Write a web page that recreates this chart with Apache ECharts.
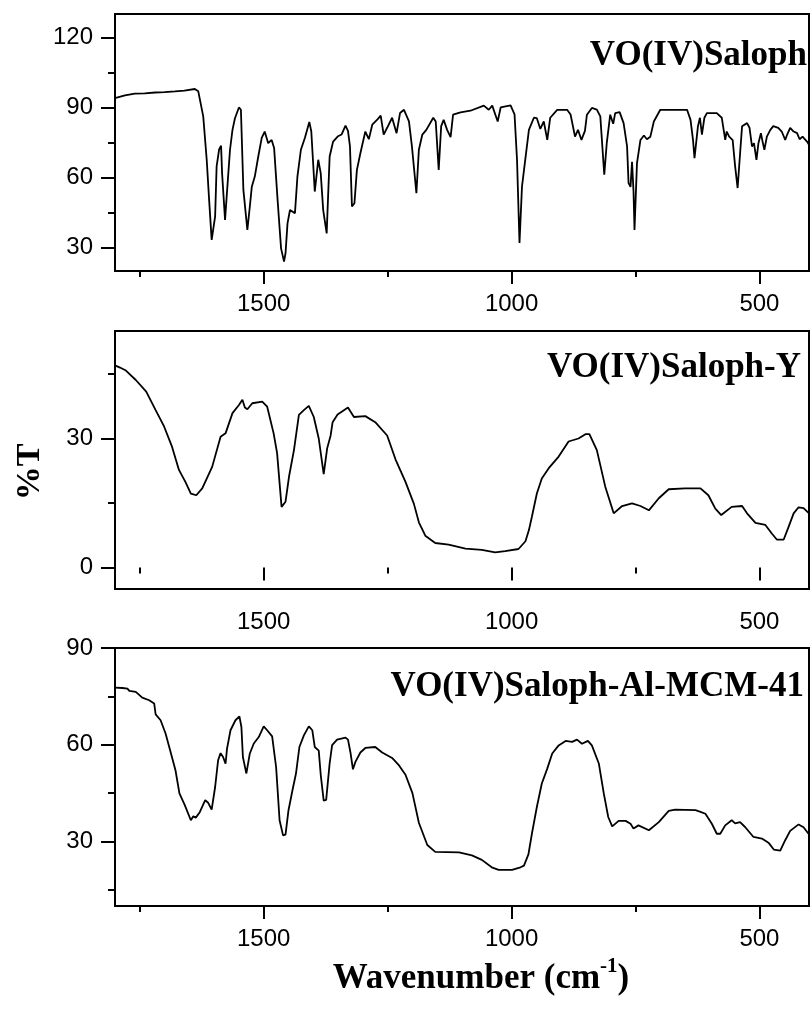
<!DOCTYPE html>
<html>
<head>
<meta charset="utf-8">
<script src="https://cdn.jsdelivr.net/npm/echarts@6/dist/echarts.min.js"></script>
<style>
  html, body { margin: 0; padding: 0; background: #fff; }
  #chart { width: 812px; height: 1010px; }
</style>
</head>
<body>
<div id="chart"></div>
<script>
// FT-IR spectra: wavenumber (cm-1) vs %T for three samples
const salophWn = [1800,1780,1760,1740,1719,1700,1679,1660,1639,1632,1622,1615,1610,1605,1598,1595,1590,1586,1584,1578,1572,1568,1563,1558,1550,1546,1541,1533,1528,1524,1518,1511,1504,1498,1491,1484,1479,1472,1465,1459,1456,1452,1447,1437,1432,1425,1417,1408,1404,1397,1390,1385,1380,1373,1367,1360,1350,1343,1335,1330,1326,1322,1317,1312,1305,1295,1288,1281,1270,1264,1258,1251,1241,1237,1232,1225,1217,1207,1201,1192,1187,1180,1172,1168,1158,1153,1147,1142,1137,1130,1123,1118,1103,1083,1056,1046,1039,1028,1022,1002,994,989,984,979,972,965,955,949,942,935,932,928,922,908,888,881,872,866,859,852,848,838,828,821,813,808,801,795,791,782,774,767,764,760,757,754,752,747,740,733,727,720,713,700,673,646,639,634,631,627,624,620,616,611,606,586,576,569,566,561,554,549,544,539,535,525,520,515,511,506,502,497,494,490,485,478,472,462,455,448,444,438,431,424,419,413,404,400];
const salophT  = [94.0,95.2,95.9,96.0,96.4,96.6,96.9,97.2,97.9,96.9,86.2,67.6,50,33.3,43.4,64.8,72,73.6,61.9,41.9,60,71.9,80.4,85.4,90,89,54.7,37.6,47.6,56.1,60.4,69,77,79.7,74.7,76.1,72.6,50.4,29.7,24,27.6,40.4,46.1,44.7,60.4,71.9,76.9,83.8,79.7,54,67.6,61.9,46.1,36.1,69,75.4,77.7,78.4,82.2,80,73.3,47.6,49,63.3,70.4,79.7,76.4,82.6,85,86.5,78.4,81.3,85.6,84.9,79,87.6,89,84,73.3,53.3,71.9,78.4,80.4,79.7,85.6,84,63.3,82,84.7,80.4,77.3,86.9,87.9,88.6,90.8,89,90.8,84,90,90.9,87,67.6,32,56.1,68.3,80.4,85.6,85.4,80.8,84,84.7,76.1,85.6,89,89,87,77.5,80.4,76.1,80,86.9,89.8,89.1,86.2,61.2,74.7,86.9,83,87.6,88,83.3,73.3,57.6,56,66.7,54,37.6,66.2,76.1,78,76.4,77.5,84,89,89,89,84.7,76.1,68.3,67.6,82,85.6,78.4,85.6,87.6,87.6,85.6,76.1,79.7,77.5,76,64.8,55.5,70.4,82,83.3,81.3,73.3,74.7,67.6,74.7,79,75.7,71.9,77.5,80.4,82,81.3,79.7,76.1,78.4,81.3,79.7,79,76.4,77.5,75.4,74];

const zeoliteWn = [1800,1790,1778,1758,1737,1718,1701,1685,1671,1658,1647,1636,1624,1604,1587,1577,1563,1550,1543,1538,1533,1523,1503,1493,1480,1473,1464,1456,1449,1439,1429,1419,1409,1399,1389,1379,1372,1365,1361,1351,1342,1330,1325,1318,1295,1275,1251,1234,1214,1197,1187,1174,1154,1127,1093,1060,1033,1013,986,972,965,959,949,939,925,905,885,865,851,843,828,811,794,777,757,740,723,703,683,650,619,603,589,577,556,535,525,508,488,475,465,451,441,431,421,411,401];
const zeoliteT  = [47,46.5,45.8,43.6,40.9,36.6,32.8,28.1,22.7,19.9,17.2,16.8,18.4,23.4,30.4,31.2,35.9,37.8,39,37.2,36.8,38.2,38.6,37.4,31.2,26.6,14.1,15.3,21.1,27.3,35.5,36.6,37.6,35,30,21.7,27.7,30.7,33.8,35.6,36.3,37.2,36.3,35,35.2,33.8,30.7,25.1,19.9,14.8,10.5,7.4,5.7,5.3,4.4,4.1,3.5,3.8,4.3,6.1,8.7,11.8,17.2,20.7,23.1,25.8,29.3,30,31,31,27.3,18.8,12.6,14.3,14.9,14.3,13.3,16.1,18.2,18.4,18.4,16.8,13.7,12.2,14.1,14.3,12.6,10.4,9.9,7.9,6.5,6.5,9.5,12.6,14,13.8,12.7];

const mcmWn = [1800,1785,1775,1771,1758,1745,1731,1721,1718,1708,1698,1688,1678,1670,1659,1647,1642,1637,1629,1618,1612,1605,1598,1592,1587,1582,1577,1574,1567,1557,1549,1545,1542,1535,1528,1520,1510,1500,1493,1483,1475,1468,1461,1456,1450,1442,1435,1428,1419,1409,1402,1397,1389,1385,1379,1374,1367,1362,1352,1335,1330,1325,1320,1315,1305,1295,1275,1261,1241,1227,1214,1200,1187,1170,1154,1106,1080,1060,1040,1026,999,982,975,966,959,949,939,928,918,905,891,878,868,858,846,838,824,814,805,797,784,770,760,754,744,723,703,683,670,629,619,609,596,586,579,569,556,549,539,529,512,495,481,471,458,448,438,421,411,401];
const mcmT  = [77.7,77.6,77.4,76.7,76.4,74.6,73.8,72.8,69.4,67.6,63.5,57.8,52.1,44.9,41.2,36.6,37.8,37.4,39.1,42.8,42,39.9,46.9,55.2,57.4,56.2,54.1,58.8,64.5,67.6,68.8,65.5,56.2,51.1,57.3,60.4,62.4,65.7,64.5,62.6,53.1,36.6,31.9,32.1,39.7,45.9,51,59.3,62.9,65.7,64.5,59.3,58.2,50.7,42.7,42.9,54.2,59.9,61.6,62.2,61.6,57.6,52.4,54.7,57.6,59,59.3,57.6,55.9,53.6,50.7,45,35.8,28.9,26.8,26.6,25.7,24.3,22,21.2,21.2,22,22.5,26,32.4,40.7,48,52.6,57.3,59.8,61.2,60.9,61.6,60.3,61.2,59.8,54.2,44.9,37.6,34.7,36.4,36.4,35.5,34,35,33.5,36,39.5,39.9,39.7,39.2,38.6,35.5,32.4,32.4,35,36.6,35.6,36,34.5,31.4,30.9,29.5,27.5,27.2,30.4,33.3,35.3,34.4,32.4];

const sampleNames = ['VO(IV)Saloph', 'VO(IV)Saloph-Y', 'VO(IV)Saloph-Al-MCM-41'];

// wavenumber axis ticks (shared by all panels)
const xRange = [400, 1800];
const xMajorTicks = [500, 1000, 1500];
const xMinorTicks = [750, 1250, 1750];

// %T axis ranges and ticks per panel
const yRanges = [[20, 130], [-5, 55], [10, 90]];
const yMajorTicks = [[30, 60, 90, 120], [0, 30], [30, 60, 90]];
const yMinorTicks = [[45, 75, 105], [15, 45], [15, 45, 75]];

const xTitle = 'Wavenumber (cm';
const xTitleSup = '-1';
const yTitle = '%T';

const pairs = (xs, ys) => xs.map((x, i) => [x, ys[i]]);
const spectra = [pairs(salophWn, salophT), pairs(zeoliteWn, zeoliteT), pairs(mcmWn, mcmT)];

const chart = echarts.init(document.getElementById('chart'), null, { renderer: 'canvas' });

const gridBoxes = [
  { left: 115, width: 694, top: 14, height: 257 },
  { left: 115, width: 694, top: 331, height: 258 },
  { left: 115, width: 694, top: 648, height: 258 }
];
const titleY = [56, 368, 687];
const titleRight = [807, 801, 804];

const sansFont = '"Liberation Sans", Arial, sans-serif';
const serifFont = '"Liberation Serif", "Times New Roman", serif';
const plain = v => String(v);

const grids = gridBoxes.map(b => Object.assign({
  show: true, borderColor: '#000', borderWidth: 2, backgroundColor: 'transparent', containLabel: false
}, b));

const xAxes = [], yAxes = [], series = [];
gridBoxes.forEach((b, g) => {
  // major ticks with labels
  xAxes.push({
    type: 'value', gridIndex: g, position: 'bottom', offset: 0,
    min: xRange[0], max: xRange[1], inverse: true,
    axisLine: { show: false }, splitLine: { show: false },
    axisTick: { show: true, length: 13, lineStyle: { color: '#000', width: 2 }, customValues: xMajorTicks },
    axisLabel: { show: true, margin: 21, color: '#000', fontSize: 24, fontFamily: sansFont, formatter: plain, customValues: xMajorTicks }
  });
  // minor ticks only
  xAxes.push({
    type: 'value', gridIndex: g, position: 'bottom', offset: 0,
    min: xRange[0], max: xRange[1], inverse: true,
    axisLine: { show: false }, splitLine: { show: false },
    axisTick: { show: true, length: 6, lineStyle: { color: '#000', width: 2 }, customValues: xMinorTicks },
    axisLabel: { show: false }
  });
  yAxes.push({
    type: 'value', gridIndex: g, position: 'left', offset: 0,
    min: yRanges[g][0], max: yRanges[g][1],
    axisLine: { show: false }, splitLine: { show: false },
    axisTick: { show: true, length: 14, lineStyle: { color: '#000', width: 2 }, customValues: yMajorTicks[g] },
    axisLabel: { show: true, margin: 22, color: '#000', fontSize: 24, fontFamily: sansFont, formatter: plain, customValues: yMajorTicks[g] }
  });
  yAxes.push({
    type: 'value', gridIndex: g, position: 'left', offset: 0,
    min: yRanges[g][0], max: yRanges[g][1],
    axisLine: { show: false }, splitLine: { show: false },
    axisTick: { show: true, length: 7, lineStyle: { color: '#000', width: 2 }, customValues: yMinorTicks[g] },
    axisLabel: { show: false }
  });
  series.push({
    type: 'line', name: sampleNames[g], xAxisIndex: 2 * g, yAxisIndex: 2 * g,
    data: spectra[g], showSymbol: false, symbol: 'none', clip: true,
    lineStyle: { color: '#000', width: 1.8 }, animation: false
  });
});

const graphics = sampleNames.map((name, g) => ({
  type: 'text', x: titleRight[g], y: titleY[g],
  style: { text: name, fill: '#000', font: 'bold 35px ' + serifFont, align: 'right', verticalAlign: 'middle' }
}));
graphics.push({
  type: 'text', x: 30, y: 472, rotation: Math.PI / 2,
  style: { text: yTitle, fill: '#000', font: 'bold 34px ' + serifFont, align: 'center', verticalAlign: 'middle' }
});
graphics.push({
  type: 'text', x: 481, y: 976,
  style: {
    text: '{a|' + xTitle + '}{s|' + xTitleSup + '}{a|)}',
    align: 'center', verticalAlign: 'middle',
    rich: {
      a: { fontFamily: serifFont, fontWeight: 'bold', fontSize: 35, fill: '#000', color: '#000', lineHeight: 40, verticalAlign: 'bottom' },
      s: { fontFamily: serifFont, fontWeight: 'bold', fontSize: 21, fill: '#000', color: '#000', lineHeight: 40, verticalAlign: 'top' }
    }
  }
});

chart.setOption({
  animation: false,
  backgroundColor: '#fff',
  grid: grids,
  xAxis: xAxes,
  yAxis: yAxes,
  series: series,
  graphic: graphics
});
</script>
</body>
</html>
